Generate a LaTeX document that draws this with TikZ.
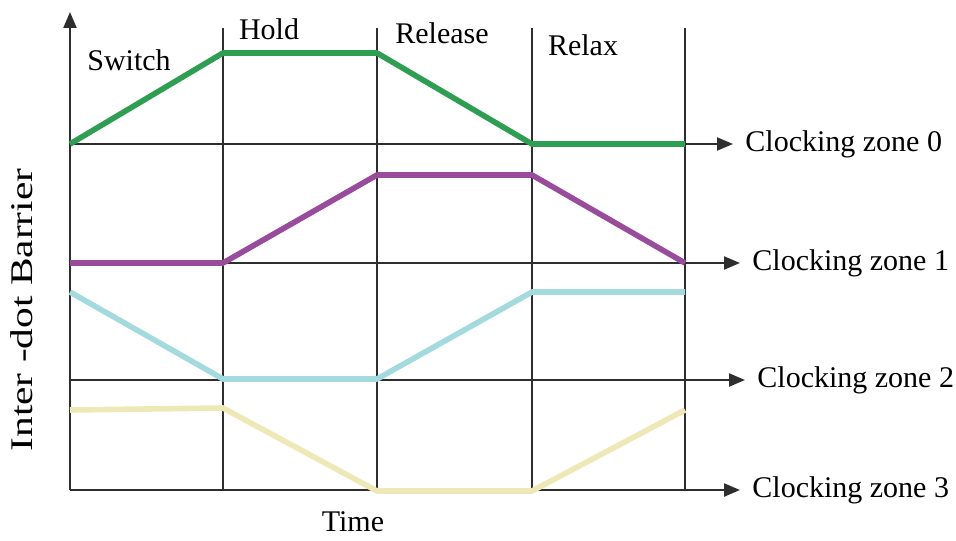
\documentclass[tikz,border=0pt]{standalone}
\definecolor{zonegreen}{HTML}{2E9E52}
\definecolor{zonepurple}{HTML}{9A4C9C}
\definecolor{zonecyan}{HTML}{A3DADE}
\definecolor{zoneyellow}{HTML}{EEE8B6}
\definecolor{axisgray}{HTML}{2E2E2E}
\usepackage{fontspec}
\setmainfont{Liberation Serif}
\usepackage{tikz}
\usetikzlibrary{arrows.meta,positioning}

\begin{document}
\begin{tikzpicture}[x=0.5pt,y=-0.5pt,
    axis/.style={axisgray,line width=1.1pt},
    zonearrow/.style={axis,-{Triangle[length=8pt,width=6.5pt]},shorten >=6pt},
    wave/.style={line width=2.8pt,line join=round},
    lbl/.style={font=\fontsize{15}{18}\selectfont,inner sep=0pt}]
    \useasboundingbox (0,0) rectangle (956,540);
    % axes and phase borders
    \coordinate (orig) at (70,490);
    \coordinate (ytop) at (70,12);
    \draw[axis,-{Triangle[length=8pt,width=6.5pt]}] (orig) -- (ytop);
    \foreach \x in {223,377,532,685}
        \draw[axis] (\x,28) -- (\x,490);
    % zone labels
    \node[lbl,anchor=west] (lz0) at (745,144) {Clocking zone 0};
    \node[lbl,anchor=west] (lz1) at (752,263) {Clocking zone 1};
    \node[lbl,anchor=west] (lz2) at (757,380) {Clocking zone 2};
    \node[lbl,anchor=west] (lz3) at (752,490) {Clocking zone 3};
    \coordinate (z0) at (70,144);
    \coordinate (z1) at (70,263);
    \coordinate (z2) at (70,380);
    \draw[zonearrow] (z0) -- (lz0.west);
    \draw[zonearrow] (z1) -- (lz1.west);
    \draw[zonearrow] (z2) -- (lz2.west);
    \draw[zonearrow] (orig) -- (lz3.west);
    % phase names
    \node[lbl] (switch) at (129,60) {Switch};
    \node[lbl] (hold) at (269,29) {Hold};
    \node[lbl] (release) at (442,33) {Release};
    \node[lbl] (relax) at (583,45) {Relax};
    \node[lbl] (time) at (353,522) {Time};
    \node[lbl,rotate=90] (barrier) at (22,310) {\scalebox{1.38}[1.05]{Inter -dot Barrier}};
    % barrier of each zone
    \draw[wave,zoneyellow] (70,410) -- (223,408) -- (377,491) -- (532,491) -- (685,410);
    \draw[wave,zonecyan] (70,292) -- (223,379) -- (377,379) -- (532,292) -- (685,292);
    \draw[wave,zonepurple] (70,263) -- (223,263) -- (377,175) -- (532,175) -- (685,263);
    \draw[wave,zonegreen] (70,144) -- (223,53) -- (377,53) -- (532,144) -- (685,144);
\end{tikzpicture}
\end{document}
